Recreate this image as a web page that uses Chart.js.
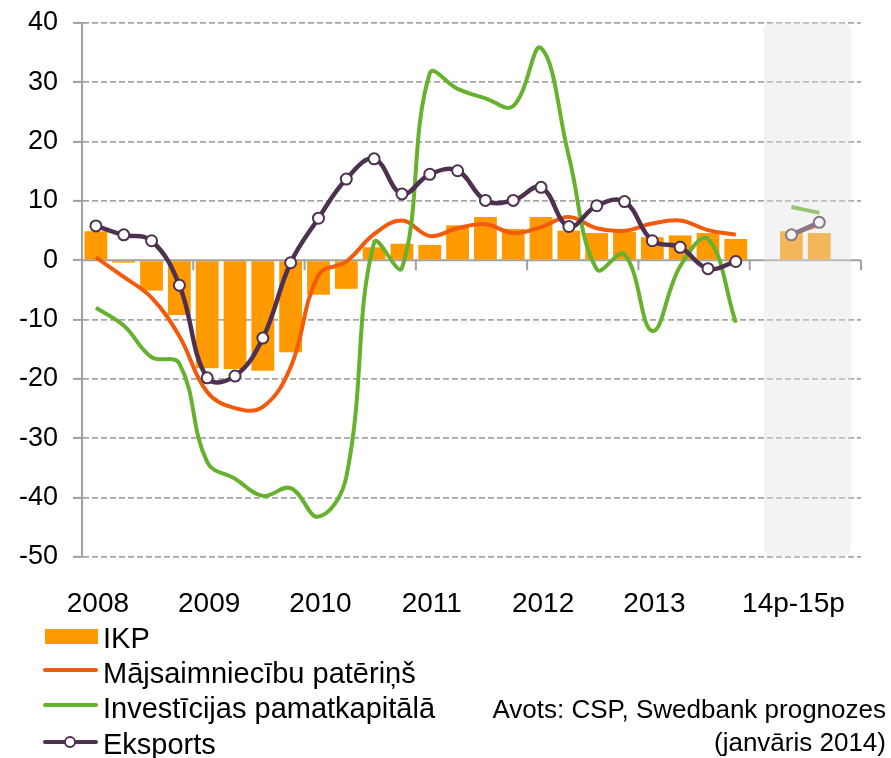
<!DOCTYPE html>
<html>
<head>
<meta charset="utf-8">
<script src="https://cdn.jsdelivr.net/npm/chart.js@4.4.1/dist/chart.umd.min.js"></script>
<style>
  body { margin: 0; background: #fff; font-family: "Liberation Sans", Arial, sans-serif; }
  #wrap { position: relative; width: 891px; height: 758px; }
  #chart { position: absolute; left: 0; top: 0; }
  .leg { position: absolute; left: 103px; font-size: 29px; line-height: 35px; color: #000; white-space: nowrap; }
  .sw { position: absolute; left: 43px; width: 55px; height: 4px; border-radius: 2px; }
  .src { position: absolute; right: 5px; font-size: 26px; line-height: 33px; text-align: right; color: #000; white-space: nowrap; }
</style>
</head>
<body>
<div id="wrap">
  <canvas id="chart" width="891" height="758"></canvas>

  <div style="position:absolute;left:45px;top:629px;width:53px;height:15px;background:#FF9900"></div>
  <div class="leg" style="top:621px">IKP</div>
  <div class="sw" style="top:668px;background:#F25A0C"></div>
  <div class="leg" style="top:656px">Mājsaimniecību patēriņš</div>
  <div class="sw" style="top:703px;background:#66B22E"></div>
  <div class="leg" style="top:691px">Investīcijas pamatkapitālā</div>
  <div class="sw" style="top:740px;background:#4E3050"></div>
  <div style="position:absolute;left:64px;top:736px;width:8px;height:8px;border:2px solid #4E3050;border-radius:50%;background:#fff"></div>
  <div class="leg" style="top:727px">Eksports</div>

  <div class="src" style="top:693px">Avots: CSP, Swedbank prognozes<br>(janvāris 2014)</div>
</div>

<script>
// 2008Q1..2013Q4, then an empty slot, the two forecast years, another empty slot
const quarters = [
  "2008Q1", "2008Q2", "2008Q3", "2008Q4",
  "2009Q1", "2009Q2", "2009Q3", "2009Q4",
  "2010Q1", "2010Q2", "2010Q3", "2010Q4",
  "2011Q1", "2011Q2", "2011Q3", "2011Q4",
  "2012Q1", "2012Q2", "2012Q3", "2012Q4",
  "2013Q1", "2013Q2", "2013Q3", "2013Q4",
  "", "2014p", "2015p", ""
];
const tickLabels = [
  "2008", "", "", "", "2009", "", "", "", "2010", "", "", "",
  "2011", "", "", "", "2012", "", "", "", "2013", "", "", "",
  "", "14p-15p", "", ""
];

const ikp = [4.9, -0.4, -5.1, -9.2, -18.2, -18.3, -18.6, -15.5, -5.8, -4.8, 2.2, 2.8,
             2.6, 5.9, 7.3, 5.3, 7.3, 5.0, 4.6, 4.8, 3.9, 4.2, 4.6, 3.6,
             null, 4.9, 4.6, null];
const paterins = [0.5, -2.8, -6.3, -12.8, -22.2, -24.9, -24.7, -18.0, -2.5, -0.2, 4.4, 6.7,
                  4.1, 5.4, 6.1, 4.6, 5.6, 7.3, 5.4, 5.0, 6.2, 6.7, 5.1, 4.3,
                  null, 4.4, 6.0, null];
const investicijas = [-8.0, -11.0, -16.3, -17.4, -34.0, -36.8, -39.7, -38.4, -43.2, -36.5, 3.0, -1.3,
                      31.5, 28.9, 27.3, 26.0, 35.8, 17.5, -1.5, 1.0, -11.9, -1.0, 3.6, -10.5,
                      null, 9.0, 8.0, null];
const eksports = [5.8, 4.3, 3.3, -4.2, -19.8, -19.5, -13.1, -0.4, 7.1, 13.7, 17.1, 11.2,
                  14.5, 15.1, 10.1, 10.1, 12.3, 5.7, 9.2, 9.9, 3.3, 2.2, -1.4, -0.2,
                  null, 4.3, 6.4, null];

const yTicks = [40, 30, 20, 10, 0, -10, -20, -30, -40, -50];

const GRID = "#A6A6A6";

const axisPlugin = {
  id: "axisExtras",
  beforeDatasetsDraw(chart) {
    const { ctx, chartArea, scales } = chart;
    const x = scales.x, y = scales.y;
    const y0 = y.getPixelForValue(0);
    ctx.save();
    ctx.strokeStyle = "#A0A0A0";
    ctx.lineWidth = 2;
    ctx.beginPath();
    ctx.moveTo(chartArea.left, y0);
    ctx.lineTo(chartArea.right, y0);
    // year tick marks at boundaries between groups of four quarters
    const half = (x.getPixelForValue(1) - x.getPixelForValue(0)) / 2;
    for (let i = 4; i <= 28; i += 4) {
      const bx = x.getPixelForValue(i - 1) + half;
      ctx.moveTo(bx, y0);
      ctx.lineTo(bx, y0 + 10);
    }
    ctx.stroke();
    ctx.restore();
  },
  afterDatasetsDraw(chart) {
    // light overlay marking the forecast period
    const { ctx, chartArea, scales } = chart;
    const x0 = scales.x.getPixelForValue(24);
    const x1 = scales.x.getPixelForValue(27) + 4;
    ctx.save();
    ctx.fillStyle = "rgba(225,225,225,0.4)";
    ctx.beginPath();
    ctx.roundRect(x0, chartArea.top - 1, x1 - x0, chartArea.bottom - chartArea.top + 1, 9);
    ctx.fill();
    ctx.restore();
  }
};

new Chart(document.getElementById("chart"), {
  type: "bar",
  data: {
    labels: quarters,
    datasets: [
      {
        label: "Eksports",
        type: "line",
        data: eksports,
        borderColor: "#4E3050",
        borderWidth: 4.5,
        tension: 0.4,
        pointRadius: 5.5,
        pointBorderWidth: 2,
        pointBackgroundColor: "#fff",
        pointBorderColor: "#4E3050",
        order: 1
      },
      {
        label: "Investīcijas pamatkapitālā",
        type: "line",
        data: investicijas,
        borderColor: "#66B22E",
        borderWidth: 4,
        tension: 0.4,
        pointRadius: 0,
        order: 2
      },
      {
        label: "Mājsaimniecību patēriņš",
        type: "line",
        data: paterins,
        borderColor: "#F25A0C",
        borderWidth: 4,
        tension: 0.4,
        pointRadius: 0,
        order: 3
      },
      {
        label: "IKP",
        data: ikp,
        backgroundColor: "#FF9900",
        categoryPercentage: 1,
        barPercentage: 0.82,
        order: 4
      }
    ]
  },
  options: {
    responsive: false,
    animation: false,
    layout: { padding: { top: 23, right: 30, bottom: 141, left: 0 } },
    plugins: { legend: { display: false }, tooltip: { enabled: false } },
    scales: {
      x: {
        grid: { display: false, drawTicks: false },
        border: { display: false },
        ticks: {
          autoSkip: false,
          maxRotation: 0,
          padding: 30,
          labelOffset: 2,
          color: "#000",
          font: { family: "'Liberation Sans', Arial, sans-serif", size: 28 },
          callback: (v, i) => tickLabels[i]
        },
        afterFit: s => { s.height = 60; s.paddingLeft = 0; s.paddingRight = 0; }
      },
      y: {
        min: -50,
        max: 40,
        afterBuildTicks: s => { s.ticks = yTicks.map(v => ({ value: v })); },
        grid: {
          color: c => (c.tick && c.tick.value === 0 ? "rgba(0,0,0,0)" : GRID),
          lineWidth: 1.8,
          tickLength: 9,
          tickColor: "#A0A0A0",
          tickWidth: 2
        },
        border: { display: true, color: "#A0A0A0", width: 2, dash: [6, 3] },
        ticks: {
          padding: 15,
          color: "#000",
          font: { family: "'Liberation Sans', Arial, sans-serif", size: 27 }
        },
        afterFit: s => { s.width = 82; s.paddingTop = 0; s.paddingBottom = 0; }
      }
    }
  },
  plugins: [axisPlugin]
});
</script>
</body>
</html>
